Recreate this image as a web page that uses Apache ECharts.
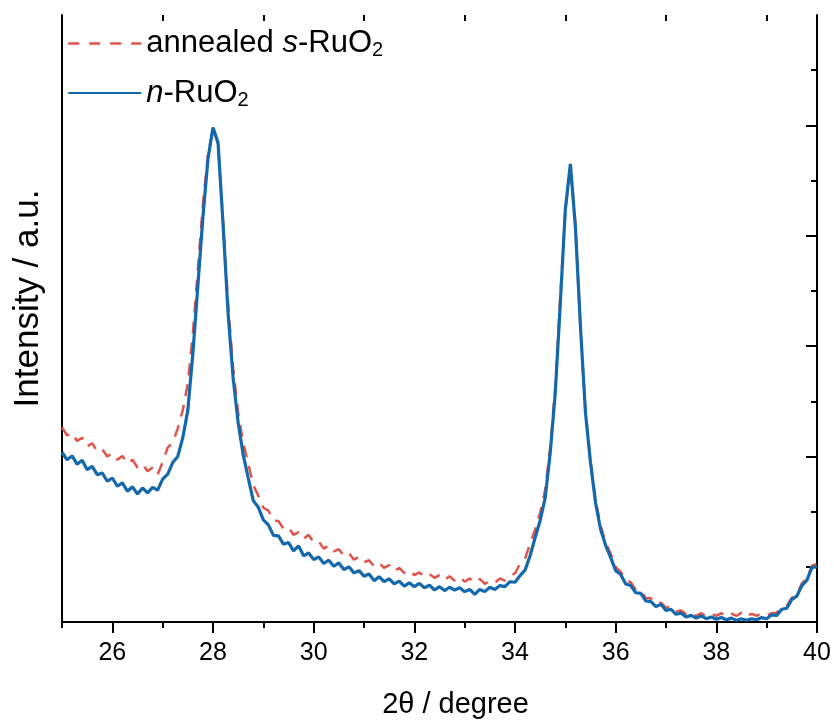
<!DOCTYPE html>
<html>
<head>
<meta charset="utf-8">
<script src="https://cdn.jsdelivr.net/npm/echarts@6/dist/echarts.min.js"></script>
<style>
html,body{margin:0;padding:0;background:#fff;}
#chart{width:834px;height:724px;}
</style>
</head>
<body>
<div id="chart"></div>
<script>
// 2θ positions (degree)
const twoTheta = [
25.0,25.1,25.2,25.3,25.4,25.5,25.6,25.7,25.8,25.9,
26.0,26.1,26.2,26.3,26.4,26.5,26.6,26.7,26.8,26.9,
27.0,27.1,27.2,27.3,27.4,27.5,27.6,27.7,27.8,27.9,
28.0,28.1,28.2,28.3,28.4,28.5,28.6,28.7,28.8,28.9,
29.0,29.1,29.2,29.3,29.4,29.5,29.6,29.7,29.8,29.9,
30.0,30.1,30.2,30.3,30.4,30.5,30.6,30.7,30.8,30.9,
31.0,31.1,31.2,31.3,31.4,31.5,31.6,31.7,31.8,31.9,
32.0,32.1,32.2,32.3,32.4,32.5,32.6,32.7,32.8,32.9,
33.0,33.1,33.2,33.3,33.4,33.5,33.6,33.7,33.8,33.9,
34.0,34.1,34.2,34.3,34.4,34.5,34.6,34.7,34.8,34.9,
35.0,35.1,35.2,35.3,35.4,35.5,35.6,35.7,35.8,35.9,
36.0,36.1,36.2,36.3,36.4,36.5,36.6,36.7,36.8,36.9,
37.0,37.1,37.2,37.3,37.4,37.5,37.6,37.7,37.8,37.9,
38.0,38.1,38.2,38.3,38.4,38.5,38.6,38.7,38.8,38.9,
39.0,39.1,39.2,39.3,39.4,39.5,39.6,39.7,39.8,39.9,
40.0];

// annealed s-RuO2 intensity (a.u.)
const annealedS = [
35.3,33.8,34.3,32.8,33.4,31.8,32.4,30.9,31.3,30.0,
30.6,29.4,30.1,28.7,29.4,28.0,28.6,27.3,28.0,26.7,
29.0,31.6,32.5,35.1,38.4,43.3,52.3,64.0,75.7,84.8,
89.4,86.6,72.7,57.7,46.0,37.9,32.5,28.7,24.8,22.9,
20.7,20.2,18.4,18.3,16.9,17.2,15.8,16.3,15.1,15.8,
14.4,14.6,13.3,13.9,12.8,13.2,12.0,12.5,11.3,11.8,
10.8,11.2,10.1,10.7,9.8,10.3,9.2,9.8,8.9,9.4,
8.5,9.0,8.2,8.7,8.0,8.5,7.6,8.3,7.5,8.2,
7.3,7.9,7.1,7.8,6.9,7.5,7.1,7.9,7.5,8.4,
8.8,10.6,11.5,14.2,16.8,19.8,24.0,31.6,42.6,59.0,
74.5,82.4,72.1,53.2,38.4,29.2,22.2,17.5,14.4,12.4,
10.0,9.1,7.5,7.2,5.8,5.7,4.3,4.3,3.3,3.5,
2.6,2.8,1.9,2.1,1.4,1.7,1.1,1.6,1.0,1.5,
1.1,1.6,1.0,1.5,1.1,1.7,1.0,1.5,1.1,1.6,
1.2,1.6,1.7,2.6,2.9,4.4,5.0,7.0,7.9,10.2,
10.5];

// n-RuO2 intensity (a.u.)
const nRuO2 = [
30.8,29.4,30.1,28.6,29.3,27.6,28.2,26.7,27.0,25.5,
26.1,24.6,25.2,23.7,24.5,23.2,24.3,23.4,24.4,23.9,
25.9,26.8,28.9,30.0,33.4,38.4,48.7,61.0,73.4,83.9,
89.6,86.9,72.0,55.9,44.2,36.1,30.3,26.1,22.0,20.8,
18.5,17.6,15.7,15.6,14.1,14.4,12.9,13.8,12.0,12.5,
11.3,11.8,10.6,11.2,10.1,10.7,9.5,10.0,8.9,9.3,
8.3,8.7,7.5,8.2,7.3,7.8,6.9,7.4,6.5,7.1,
6.4,7.0,6.2,6.7,5.8,6.4,5.7,6.3,5.8,6.2,
5.5,5.9,5.0,5.9,5.5,6.3,5.9,6.6,6.4,7.3,
7.2,8.4,9.4,12.0,15.3,18.4,22.5,30.7,41.5,57.7,
74.8,83.0,71.6,53.6,37.9,28.9,21.6,16.8,13.9,11.7,
9.3,8.6,6.9,6.6,5.3,5.2,3.8,3.7,2.8,3.2,
2.1,2.3,1.4,1.6,0.9,1.2,0.7,1.1,0.6,0.9,
0.5,0.8,0.4,0.7,0.3,0.6,0.3,0.6,0.4,0.8,
0.6,1.3,1.2,2.3,2.5,4.1,4.7,6.6,7.6,9.9,
10.0];

const xMajorTicks = [26, 28, 30, 32, 34, 36, 38, 40];
const xMinorTicks = [25, 27, 29, 31, 33, 35, 37, 39];
const yMajorTicks = [10, 30, 50, 70, 90];
const yMinorTicks = [20, 40, 60, 80, 100];
const seriesNames = ['annealed s-RuO2', 'n-RuO2'];

const FONT = 'Liberation Sans, Arial, sans-serif';
const X_MIN = 25, X_MAX = 40, Y_MIN = 0, Y_MAX = 110;

function pairs(xs, ys) { return xs.map((x, i) => [x, ys[i]]); }

const axisLine = { show: true, lineStyle: { color: '#000', width: 2 } };

const chart = echarts.init(document.getElementById('chart'), null, { renderer: 'canvas' });
chart.setOption({
  animation: false,
  backgroundColor: '#fff',
  grid: { left: 62, right: 17, top: 15, bottom: 99, containLabel: false },
  legend: {
    orient: 'vertical',
    left: 67, top: 28,
    padding: 0,
    itemWidth: 73, itemHeight: 16, itemGap: 17,
    data: [
      { name: seriesNames[0], lineStyle: { type: [11, 10], width: 2.5 } },
      { name: seriesNames[1] }
    ],
    itemStyle: { color: 'transparent', borderColor: 'transparent', borderWidth: 0, opacity: 0 },
    textStyle: {
      fontFamily: FONT, fontSize: 31, color: '#000',
      rich: {
        n: { fontFamily: FONT, fontSize: 31, color: '#000', lineHeight: 34 },
        i: { fontFamily: FONT, fontSize: 31, color: '#000', fontStyle: 'italic', lineHeight: 34 },
        s: { fontFamily: FONT, fontSize: 20, color: '#000', verticalAlign: 'bottom', lineHeight: 18 }
      }
    },
    formatter: function (name) {
      if (name === seriesNames[0]) return '{n|annealed }{i|s}{n|-RuO}{s|2}';
      return '{i|n}{n|-RuO}{s|2}';
    }
  },
  xAxis: [
    {
      type: 'value', position: 'bottom', min: X_MIN, max: X_MAX,
      name: '2θ / degree', nameLocation: 'middle', nameGap: 68,
      nameTextStyle: { fontFamily: FONT, fontSize: 29, color: '#000', padding: [0, 0, 0, 32] },
      axisLine: axisLine,
      axisTick: { show: true, inside: false, length: 11, lineStyle: { color: '#000', width: 2 }, customValues: xMajorTicks },
      axisLabel: { show: true, margin: 19, fontFamily: FONT, fontSize: 25, color: '#000', customValues: xMajorTicks },
      splitLine: { show: false }
    },
    {
      type: 'value', position: 'bottom', min: X_MIN, max: X_MAX,
      axisLine: { show: false },
      axisTick: { show: true, inside: false, length: 6, lineStyle: { color: '#000', width: 2 }, customValues: xMinorTicks },
      axisLabel: { show: false },
      splitLine: { show: false }
    },
    {
      type: 'value', position: 'top', min: X_MIN, max: X_MAX,
      axisLine: axisLine,
      axisTick: { show: true, inside: true, length: 11, lineStyle: { color: '#000', width: 2 }, customValues: xMajorTicks },
      axisLabel: { show: false },
      splitLine: { show: false }
    },
    {
      type: 'value', position: 'top', min: X_MIN, max: X_MAX,
      axisLine: { show: false },
      axisTick: { show: true, inside: true, length: 6, lineStyle: { color: '#000', width: 2 }, customValues: xMinorTicks },
      axisLabel: { show: false },
      splitLine: { show: false }
    }
  ],
  yAxis: [
    {
      type: 'value', position: 'left', min: Y_MIN, max: Y_MAX,
      name: 'Intensity / a.u.', nameLocation: 'middle', nameGap: 16, nameRotate: 90,
      nameTextStyle: { fontFamily: FONT, fontSize: 35, color: '#000', padding: [0, 0, 0, 40] },
      axisLine: axisLine,
      axisTick: { show: false },
      axisLabel: { show: false },
      splitLine: { show: false }
    },
    {
      type: 'value', position: 'right', min: Y_MIN, max: Y_MAX,
      axisLine: axisLine,
      axisTick: { show: true, inside: true, length: 11, lineStyle: { color: '#000', width: 2 }, customValues: yMajorTicks },
      axisLabel: { show: false },
      splitLine: { show: false }
    },
    {
      type: 'value', position: 'right', min: Y_MIN, max: Y_MAX,
      axisLine: { show: false },
      axisTick: { show: true, inside: true, length: 6, lineStyle: { color: '#000', width: 2 }, customValues: yMinorTicks },
      axisLabel: { show: false },
      splitLine: { show: false }
    }
  ],
  series: [
    {
      name: seriesNames[0], type: 'line', xAxisIndex: 0, yAxisIndex: 0,
      data: pairs(twoTheta, annealedS),
      showSymbol: false, symbol: 'none', smooth: false, clip: true,
      color: '#E0544E',
      lineStyle: { color: '#E0544E', width: 2.5, type: [12, 9] },
      z: 2
    },
    {
      name: seriesNames[1], type: 'line', xAxisIndex: 0, yAxisIndex: 0,
      data: pairs(twoTheta, nRuO2),
      showSymbol: false, symbol: 'none', smooth: false, clip: true,
      color: '#1468AC',
      lineStyle: { color: '#1468AC', width: 3.2 },
      z: 3
    }
  ]
});
</script>
</body>
</html>
